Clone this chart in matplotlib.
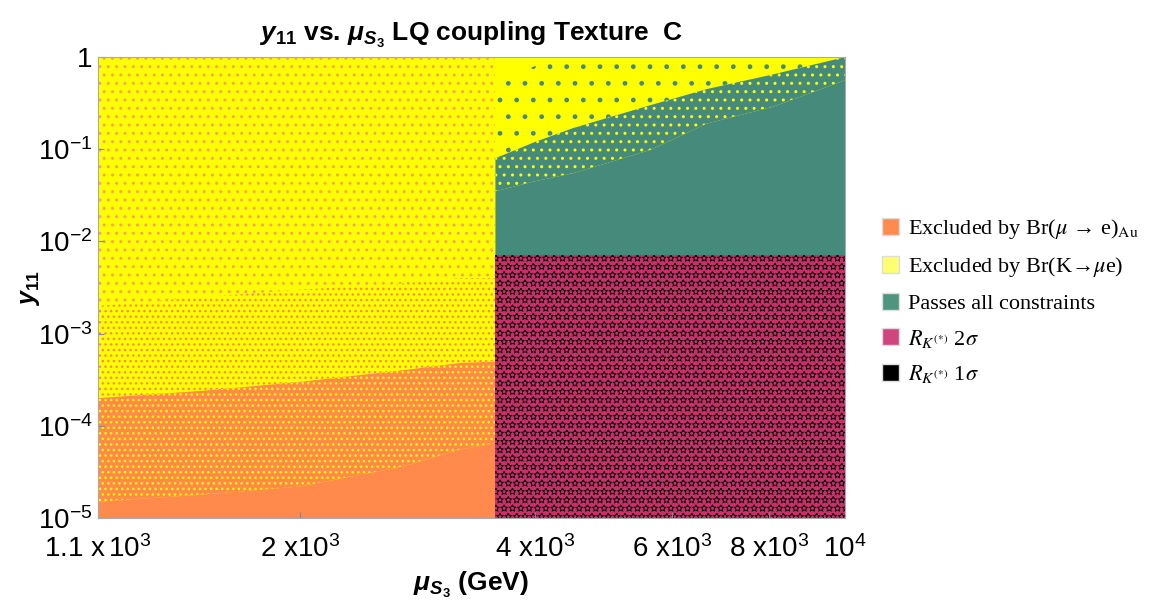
import numpy as np
import matplotlib
matplotlib.use('Agg')
import matplotlib.pyplot as plt
from matplotlib.patches import Patch
from matplotlib.font_manager import FontProperties

plt.rcParams['font.family'] = 'Liberation Sans'
plt.rcParams['mathtext.fontset'] = 'custom'
plt.rcParams['mathtext.rm'] = 'Liberation Sans'
plt.rcParams['mathtext.it'] = 'Liberation Sans:italic'
plt.rcParams['mathtext.bf'] = 'Liberation Sans:bold'
plt.rcParams['mathtext.bfit'] = 'Liberation Sans:bold:italic'
plt.rcParams['hatch.linewidth'] = 1.0

# region boundaries (mu in GeV, y11)
mu_min, mu_max = 1100, 10000
y_min, y_max = 1e-5, 1

mu_left = [1100, 1500, 2000, 2700, 3200, 3560]
y_orange_solid = [1.5e-5, 1.8e-5, 2.2e-5, 3.6e-5, 5.5e-5, 6.5e-5]
y_orange_mix = [2e-4, 2.4e-4, 3e-4, 4e-4, 4.8e-4, 5e-4]
y_yellow_mix = [2e-3, 2.5e-3, 3e-3, 3.5e-3, 4e-3, 4e-3]

mu_right = [3560, 4000, 4480, 5620, 6650, 8090, 10000]
y_teal_dense = [0.035, 0.045, 0.055, 0.098, 0.19, 0.29, 0.56]
y_teal_mid = [0.08, 0.12, 0.17, 0.3, 0.45, 0.65, 1.0]
y_teal_fringe = [0.5, 0.8, 1, 1, 1, 1, 1]
y_rk2 = 0.0072

xticks = [1100, 2000, 4000, 6000, 8000, 10000]
xticklabels = ['1.1 x$\\,10^3$', '2 x$10^3$', '4 x$10^3$', '6 x$10^3$', '8 x$10^3$', '$10^4$']
yticks = [1e-5, 1e-4, 1e-3, 1e-2, 1e-1, 1]
yticklabels = ['$10^{-5}$', '$10^{-4}$', '$10^{-3}$', '$10^{-2}$', '$10^{-1}$', '1']

orange = '#ff8a4c'
speck = '#f9a45c'
yellow = '#ffff00'
teal = '#468a7c'
pink = '#c8306a'

fig = plt.figure(figsize=(11.55, 6.01), dpi=100)
ax = fig.add_axes([0.0848, 0.138, 0.6468, 0.767])
ax.set_xscale('log')
ax.set_yscale('log')

# left part: K -> mu e excluded (yellow) mixed with mu -> e excluded (orange)
ax.fill_between(mu_left, y_min, y_max, facecolor=yellow, edgecolor=speck,
                hatch='..', linewidth=0)
ax.fill_between(mu_left, y_orange_mix, y_yellow_mix, facecolor=yellow, edgecolor=orange,
                hatch='...', linewidth=0)
ax.fill_between(mu_left, y_orange_solid, y_orange_mix, facecolor=orange,
                edgecolor=yellow, hatch='...', linewidth=0)
ax.fill_between(mu_left, y_min, y_orange_solid, facecolor=orange, linewidth=0)

# right part: allowed points and R_K points
ax.fill_between(mu_right, y_min, y_max, facecolor=yellow, linewidth=0)
ax.fill_between(mu_right, y_teal_mid, y_teal_fringe, facecolor=yellow,
                edgecolor=teal, hatch='.', linewidth=0)
ax.fill_between(mu_right, y_teal_dense, y_teal_mid, facecolor=teal,
                edgecolor=yellow, hatch='..', linewidth=0)
ax.fill_between(mu_right, y_min, y_teal_dense, facecolor=teal, linewidth=0)
ax.fill_between(mu_right, y_min, y_rk2, facecolor=pink, edgecolor='black',
                hatch='**', linewidth=0)
ax.fill_between(mu_right, y_min, y_rk2, facecolor='none', edgecolor=pink,
                hatch='..', linewidth=0)

ax.set_xlim(mu_min, mu_max)
ax.set_ylim(y_min, y_max)
ax.minorticks_off()
ax.set_xticks(xticks)
ax.set_xticklabels(xticklabels)
ax.set_yticks(yticks)
ax.set_yticklabels(yticklabels)
ax.tick_params(direction='in', length=4, labelsize=20, color='#888888')
ax.tick_params(axis='x', pad=12)
ax.tick_params(axis='y', pad=4)
for s in ax.spines.values():
    s.set_color('#aaaaaa')

ax.set_title(r'$\mathbfit{y}_{\mathbf{11}}$ vs. $\mathbfit{\mu}_{\mathbfit{S}_{\mathbf{3}}}$ LQ coupling Texture  C',
             fontsize=19, fontweight='bold', pad=12)
ax.set_xlabel(r'$\mathbfit{\mu}_{\mathbfit{S}_{\mathbf{3}}}$ (GeV)', fontsize=19, fontweight='bold', labelpad=5)
ax.set_ylabel(r'$\mathbfit{y}_{\mathbf{11}}$', fontsize=18, fontweight='bold', labelpad=-3)

handles = [
    Patch(facecolor='#ff8c4c', edgecolor='#dddddd', label='Excluded by Br($\\mu$ → e)$_{\\mathrm{Au}}$'),
    Patch(facecolor='#ffff70', edgecolor='#dddddd', label='Excluded by Br(K→$\\mu$e)'),
    Patch(facecolor='#4e957f', edgecolor='#dddddd', label='Passes all constraints'),
    Patch(facecolor='#d0457e', edgecolor='#dddddd', label='$R_{K^{(*)}}$ 2$\\sigma$'),
    Patch(facecolor='black', edgecolor='#dddddd', label='$R_{K^{(*)}}$ 1$\\sigma$'),
]
fig.legend(handles=handles, loc='upper left', bbox_to_anchor=(0.746, 0.672),
           frameon=False,
           prop=FontProperties(family='Liberation Serif', size=16, math_fontfamily='stix'),
           handlelength=0.8, handleheight=0.8, handletextpad=0.4, labelspacing=0.62)

fig.savefig('out.png', dpi=100)
